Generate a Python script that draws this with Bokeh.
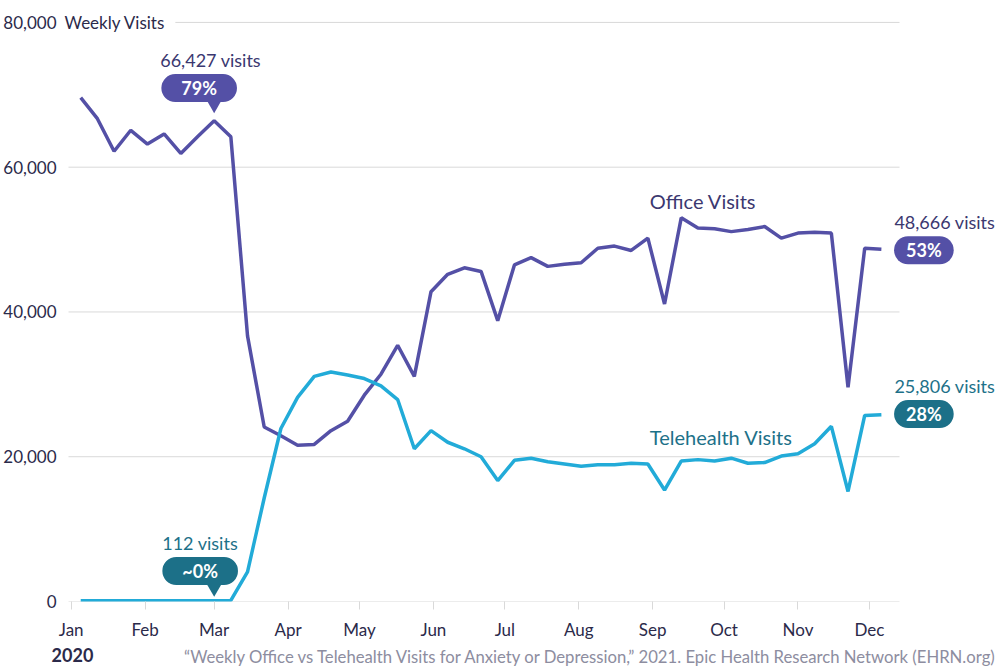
import pandas as pd
from bokeh.plotting import figure
from bokeh.layouts import column
from bokeh.models import (Range1d, FixedTicker, DatetimeTickFormatter,
                          NumeralTickFormatter, Label, ColumnDataSource)
from bokeh.embed import file_html
from bokeh.resources import INLINE

# ---------------- data ----------------
first_week = "2020-01-05"
n_weeks = 49
week_dates = pd.date_range(first_week, periods=n_weeks, freq="7D")

office_visits = [
    69600, 66700, 62200, 65100, 63200, 64600, 61900, 64200, 66427, 64200,
    36700, 24100, 22900, 21600, 21700, 23600, 24900, 28500, 31400, 35400,
    31100, 42800, 45200, 46100, 45600, 38800, 46500, 47500, 46300, 46600,
    46800, 48800, 49100, 48500, 50200, 41100, 53000, 51600, 51500, 51100,
    51400, 51800, 50200, 50900, 51000, 50900, 29600, 48800, 48666,
]
telehealth_visits = [
    98, 105, 101, 110, 104, 108, 99, 115, 112, 150,
    4100, 14300, 23900, 28200, 31100, 31700, 31300, 30800, 29800, 27900,
    21100, 23600, 22000, 21100, 20000, 16700, 19500, 19800, 19300, 19000,
    18700, 18900, 18900, 19100, 19000, 15400, 19400, 19600, 19400, 19800,
    19100, 19200, 20100, 20400, 21800, 24200, 15200, 25700, 25806,
]
month_starts = ["2020-01-01", "2020-02-01", "2020-03-01", "2020-04-01",
                "2020-05-01", "2020-06-01", "2020-07-01", "2020-08-01",
                "2020-09-01", "2020-10-01", "2020-11-01", "2020-12-01"]
y_ticks = [0, 20000, 40000, 60000, 80000]

peak_week = 8          # week annotated on the left (first week of March)
last_week = n_weeks - 1
office_peak_share = "79%"
tele_peak_share = "~0%"
office_last_share = "53%"
tele_last_share = "28%"
label_week = 34        # week where the series names are placed

y_axis_title = "Weekly Visits"
year_label = "2020"
source_note = ("\u201cWeekly Office vs Telehealth Visits for Anxiety or Depression,\u201d "
               "2021. Epic Health Research Network (EHRN.org)")

# ---------------- styles ----------------
FONT = "Lato"
PURPLE = "#5450a6"
TEAL_LINE = "#22abd8"
PURPLE_TEXT = "#3b3870"
TEAL_TEXT = "#1d7189"
TEAL_BUBBLE = "#1c7088"
AXIS_TEXT = "#2b2a4a"
GRID = "#d9d9d9"
NOTE = "#8d8da0"

W = 1001
H_MAIN, H_NOTE = 642, 25
BL, BB = 60, 39
FW = W - BL                 # frame reaches the right edge
FH = H_MAIN - BB            # frame reaches the top edge
PX_PER_DAY = 831 / 348.73
Y_MAX = 80000
GRID_H = 581                # height from 0 to 80,000


def ms(ts):
    return pd.Timestamp(ts).value / 1e6


xw = [ms(d) for d in week_dates]
jan1 = pd.Timestamp("2020-01-01")
grid_start = ms(jan1 - pd.Timedelta(days=1.13))
grid_end = ms(jan1 + pd.Timedelta(days=347.6))
day_ms = 86400000.0
x_start = grid_start - 8 / PX_PER_DAY * day_ms
x_end = x_start + FW / PX_PER_DAY * day_ms
y_end = Y_MAX * FH / GRID_H
y_per_px = Y_MAX / GRID_H

src = ColumnDataSource(dict(x=xw, office=office_visits, tele=telehealth_visits))

p = figure(width=W, height=H_MAIN, output_backend="svg", toolbar_location=None,
           x_axis_type="datetime",
           x_range=Range1d(x_start, x_end), y_range=Range1d(0, y_end),
           min_border_left=BL, min_border_right=0, min_border_top=0,
           min_border_bottom=BB)
p.outline_line_color = None
p.background_fill_color = "white"
p.border_fill_color = "white"
p.xgrid.grid_line_color = None
p.ygrid.grid_line_color = None

# grid lines over the gridded area only
p.segment(x0=[grid_start] * len(y_ticks), x1=[grid_end] * len(y_ticks),
          y0=y_ticks, y1=y_ticks, line_color=GRID, line_width=1)

p.line("x", "office", source=src, line_color=PURPLE, line_width=3.5)
p.line("x", "tele", source=src, line_color=TEAL_LINE, line_width=3.5)

# axes
xa = p.xaxis[0]
xa.ticker = FixedTicker(ticks=[ms(m) for m in month_starts])
xa.formatter = DatetimeTickFormatter(days="%b", months="%b", years="%b",
                                     hours="%b", hourmin="%b")
xa.axis_line_color = None
xa.major_tick_line_color = GRID
xa.major_tick_out = 8
xa.major_tick_in = 0
xa.minor_tick_line_color = None
xa.major_label_standoff = 9
xa.major_label_text_font = FONT
xa.major_label_text_font_size = "17px"
xa.major_label_text_color = AXIS_TEXT

ya = p.yaxis[0]
ya.ticker = FixedTicker(ticks=y_ticks)
ya.formatter = NumeralTickFormatter(format="0,0")
ya.axis_line_color = None
ya.major_tick_line_color = None
ya.minor_tick_line_color = None
ya.major_tick_out = 0
ya.major_tick_in = 0
ya.minor_tick_out = 0
ya.major_label_standoff = 4
ya.major_label_text_font = FONT
ya.major_label_text_font_size = "17px"
ya.major_label_text_color = AXIS_TEXT


def add_label(fig, x, y, text, dx, dy, color, size="18px", align="left", bold=False,
              units="data", **kw):
    fig.add_layout(Label(x=x, y=y, x_offset=dx, y_offset=dy,
                         x_units=units, y_units=units, text=text,
                         text_color=color, text_font=FONT, text_font_size=size,
                         text_align=align, text_baseline="middle",
                         text_font_style="bold" if bold else "normal", **kw))


def bubble(x, y, text, dx, dy, fill, padx):
    add_label(p, x, y, text, dx, dy, "white", size="18px", align="center", bold=True,
              background_fill_color=fill,
              padding=dict(left=padx, right=padx, top=3, bottom=3),
              border_radius=14)


# y axis title over the top grid line
add_label(p, grid_start, Y_MAX, y_axis_title, -4, 0, AXIS_TEXT, size="17px",
          background_fill_color="white",
          padding=dict(left=0, right=10, top=2, bottom=2))

# left annotations (peak week)
xo, yo = xw[peak_week], office_visits[peak_week]
yt = telehealth_visits[peak_week]
p.scatter(x=[xo, xo], y=[yo + 15.6 * y_per_px, yt + 12 * y_per_px],
          marker="inverted_triangle", size=14, line_color=None,
          fill_color=[PURPLE, TEAL_BUBBLE])

add_label(p, xo, yo, f"{office_visits[peak_week]:,} visits", -3.5, 61, PURPLE_TEXT,
          align="center")
bubble(xo, yo, office_peak_share, -15, 32.6, PURPLE, 20)

add_label(p, xo, yt, f"{telehealth_visits[peak_week]:,} visits", -14, 58, TEAL_TEXT,
          align="center")
bubble(xo, yt, tele_peak_share, -14, 29.7, TEAL_BUBBLE, 20)

# right annotations (last week)
xl = xw[last_week]
add_label(p, xl, office_visits[last_week], f"{office_visits[last_week]:,} visits",
          13, 27, PURPLE_TEXT)
bubble(xl, office_visits[last_week], office_last_share, 42.5, -1, PURPLE, 12)
add_label(p, xl, telehealth_visits[last_week],
          f"{telehealth_visits[last_week]:,} visits", 13, 29, TEAL_TEXT)
bubble(xl, telehealth_visits[last_week], tele_last_share, 42.5, 0.6, TEAL_BUBBLE, 12)

# series names
add_label(p, xw[label_week], office_visits[label_week], "Office Visits", 2, 37,
          PURPLE_TEXT, size="20px")
add_label(p, xw[label_week], telehealth_visits[label_week], "Telehealth Visits",
          2, 27, TEAL_TEXT, size="20px")

# ---------------- strip below the axis: year and source note ----------------
note = figure(width=W, height=H_NOTE, output_backend="svg", toolbar_location=None,
              x_axis_location=None, y_axis_location=None,
              min_border=0, x_range=Range1d(0, W), y_range=Range1d(0, H_NOTE))
note.outline_line_color = None
note.xgrid.grid_line_color = None
note.ygrid.grid_line_color = None

note_left = BL
try:
    # keep the strip's frame at the canvas edge instead of aligning it with the chart
    p.frame_align = False
    note.frame_align = False
    note_left = 0
except AttributeError:
    pass

add_label(note, 72 - note_left, 12.5, year_label, 0, 0, AXIS_TEXT, size="18px",
          align="center", bold=True, units="screen")
add_label(note, 998 - note_left, 11, source_note, 0, 0, NOTE, size="16.7px",
          align="right", units="screen")

layout = column(p, note, spacing=0)
open("out.html", "w").write(file_html(layout, INLINE))
